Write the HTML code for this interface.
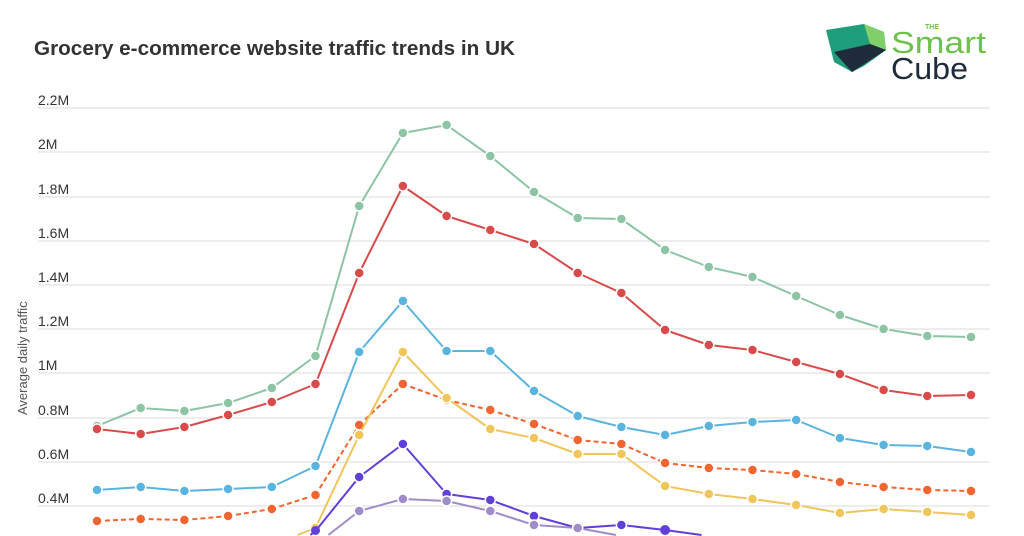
<!DOCTYPE html>
<html><head><meta charset="utf-8"><style>
html,body{margin:0;padding:0;background:#fff;width:1024px;height:536px;overflow:hidden;}
svg{display:block;font-family:"Liberation Sans",sans-serif;overflow:hidden;}
</style></head><body>
<svg id="s" width="1024" height="536" viewBox="0 0 1024 536" xmlns="http://www.w3.org/2000/svg">
<text x="34" y="55" font-size="20" font-weight="bold" fill="#333" textLength="481" lengthAdjust="spacingAndGlyphs">Grocery e-commerce website traffic trends in UK</text>
<g stroke="#e2e2e2" stroke-width="1.2">
<line x1="38" x2="990" y1="108" y2="108"/><line x1="38" x2="990" y1="152" y2="152"/>
<line x1="38" x2="990" y1="197" y2="197"/><line x1="38" x2="990" y1="241" y2="241"/>
<line x1="38" x2="990" y1="285" y2="285"/><line x1="38" x2="990" y1="329" y2="329"/>
<line x1="38" x2="990" y1="373" y2="373"/><line x1="38" x2="990" y1="418" y2="418"/>
<line x1="38" x2="990" y1="462" y2="462"/><line x1="38" x2="990" y1="506" y2="506"/>
</g>
<g font-size="14" fill="#333">
<text x="38" y="105">2.2M</text><text x="38" y="149">2M</text><text x="38" y="194">1.8M</text>
<text x="38" y="238">1.6M</text><text x="38" y="282">1.4M</text><text x="38" y="326">1.2M</text>
<text x="38" y="370">1M</text><text x="38" y="415">0.8M</text><text x="38" y="459">0.6M</text>
<text x="38" y="503">0.4M</text>
</g>
<text transform="translate(27,415) rotate(-90)" font-size="13" fill="#555">Average daily traffic</text>
<g id="d"></g>
<g transform="translate(824,22)">
<polygon points="2,8 40,2 60,10 62,28 40,44 28,50 10,40" fill="#1e9e7a"/>
<polygon points="40,2 60,10 62,28 46,22" fill="#7fd06a"/>
<polygon points="10,30 46,22 62,28 28,50" fill="#1d2b3a"/>
<text x="101" y="7" font-size="7" font-weight="bold" fill="#6cc24a">THE</text>
<text x="67" y="31" font-size="31" fill="#6cc24a" textLength="95" lengthAdjust="spacingAndGlyphs">Smart</text>
<text x="67" y="57" font-size="31" fill="#1d2b3a" textLength="77" lengthAdjust="spacingAndGlyphs">Cube</text>
</g>
</svg>
<script>
var X=[];for(var i=0;i<21;i++)X.push(97+i*43.7);
var S=[
["#8cc4a4",0,[426,408,411,403,388,356,206,133,125,156,192,218,219,250,267,277,296,315,329,336,337],0],
["#d94b4b",0,[429,434,427,415,402,384,273,186,216,230,244,273,293,330,345,350,362,374,390,396,395],0],
["#5ab4e0",0,[490,487,491,489,487,466,352,301,351,351,391,416,427,435,426,422,420,438,445,446,452],0],
["#f26430",0,[521,519,520,516,509,495,425,384,400,410,424,440,444,463,468,470,474,482,487,490,491],1],
["#f0c55a",3,[550,545,528,435,352,398,429,438,454,454,486,494,499,505,513,509,512,515],0],
["#6040d8",4,[565,531,477,444,494,500,516,528,525,530,536],0],
["#a08cc8",5,[545,511,499,501,511,525,528,536],0]
];
var L=535,g=document.getElementById('d'),h='';
S.forEach(function(s){
 var pts=s[2].map(function(y,k){return [X[s[1]+k],y];});
 var segs='';
 for(var k=0;k<pts.length-1;k++){
  var a=pts[k].slice(),b=pts[k+1].slice();
  if(a[1]>L&&b[1]>L)continue;
  if(a[1]>L){var t=(L-b[1])/(a[1]-b[1]);a=[b[0]+(a[0]-b[0])*t,L];}
  if(b[1]>L){var t2=(L-a[1])/(b[1]-a[1]);b=[a[0]+(b[0]-a[0])*t2,L];}
  segs+='M'+a[0].toFixed(1)+','+a[1].toFixed(1)+'L'+b[0].toFixed(1)+','+b[1].toFixed(1);
 }
 h+='<path fill="none" stroke="'+s[0]+'" stroke-width="2"'+(s[3]?' stroke-dasharray="5,3"':'')+' d="'+segs+'"/>';
 pts.forEach(function(p){
  if(p[1]<=529)h+='<circle cx="'+p[0].toFixed(1)+'" cy="'+p[1]+'" r="5" fill="'+s[0]+'" stroke="#fff" stroke-width="1.5"/>';
  else if(p[1]<=L){var r=Math.min(5,L-p[1]+0.5);h+='<circle cx="'+p[0].toFixed(1)+'" cy="'+(L-r)+'" r="'+r+'" fill="'+s[0]+'"/>';}
 });
});
g.innerHTML=h;
</script>
</body></html>
